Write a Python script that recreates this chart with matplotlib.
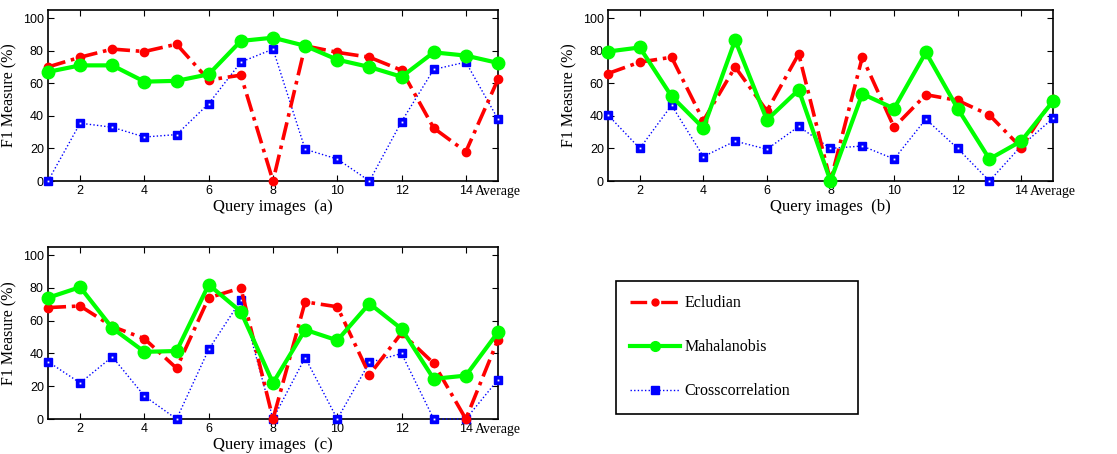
import numpy as np
import matplotlib.pyplot as plt
from matplotlib.lines import Line2D

# query images 1..14 plus the average at position 15
queries = np.arange(1, 16)

# panel (a)
eucl_a = [70, 76, 81, 79.5, 84, 62, 65, 0, 83, 79, 76, 68, 32.5, 18, 62.5]
maha_a = [67, 71, 71, 61, 61.5, 65.5, 86, 88, 83, 74.5, 70, 64, 79, 77, 72.5]
cross_a = [0, 35.5, 33, 27, 28.5, 47.5, 73, 81, 19.5, 13.5, 0, 36.5, 68.5, 73, 38]

# panel (b)
eucl_b = [66, 73, 76, 37, 70, 43, 78, 0, 76, 33, 53, 49.5, 40.5, 20.5, 50.5]
maha_b = [79.5, 82, 52, 32.5, 86.5, 37.5, 56, 0, 53.5, 44.5, 79, 44.5, 13.5, 24.5, 49]
cross_b = [40.5, 20, 46.5, 15, 24.5, 19.5, 33.5, 20, 21.5, 13.5, 38, 20, 0, 21.5, 38.5]

# panel (c)
eucl_c = [68, 69, 56.5, 49, 31, 74, 80, 0, 71.5, 68.5, 27, 52.5, 34, 0, 48.5]
maha_c = [74, 80.5, 55.5, 41, 41.5, 82, 65.5, 22, 54.5, 48, 70.5, 55, 24.5, 26.5, 53]
cross_c = [35, 22, 38, 14, 0, 42.5, 72.5, 0, 37.5, 0, 34.5, 40, 0, 0, 24]

labels = ["Ecludian", "Mahalanobis", "Crosscorrelation"]
panel_tags = ["(a)", "(b)", "(c)"]

W, H = 1117, 454
fig = plt.figure(figsize=(W / 100, H / 100), dpi=100)

serif = "Liberation Serif"
sans = "Liberation Sans"

RED_LS = (0, (5, 1.6, 1, 1.6))
BLUE_LS = (0, (1, 1.6))


def px_axes(x0, x1, y0, y1):
    return fig.add_axes([x0 / W, 1 - y1 / H, (x1 - x0) / W, (y1 - y0) / H])


def draw_panel(ax, eucl, maha, cross, tag):
    ax.plot(queries, cross, color="blue", lw=1.0, ls=BLUE_LS, marker="s",
            ms=6, mfc="blue", mec="blue", zorder=3, clip_on=False)
    ax.plot(queries, cross, ls="none", marker="s", ms=1.3, mew=0,
            mfc="white", zorder=3.1, clip_on=False)
    ax.plot(queries, eucl, color="red", lw=2.6, ls=RED_LS, marker="o",
            ms=6, mfc="red", mec="red", zorder=4, clip_on=False)
    ax.plot(queries, maha, color="#00ff00", lw=3, ls="-", marker="o",
            ms=9, mfc="#00ff00", mec="#00ff00", zorder=5, clip_on=False)

    ax.set_xlim(1, 15)
    ax.set_ylim(0, 105)
    ax.set_xticks(range(2, 15, 2))
    ax.set_yticks(range(0, 101, 20))
    ax.tick_params(direction="in", top=True, right=True, length=4,
                   labelsize=9, pad=3)
    for t in ax.get_xticklabels() + ax.get_yticklabels():
        t.set_fontfamily(sans)
    ax.text(15, -2.5, "Average", ha="center", va="top", fontsize=10,
            fontfamily=serif, transform=ax.transData)
    ax.set_ylabel("F1 Measure (%)", fontsize=11.5, fontfamily=serif, labelpad=4)
    ax.set_xlabel("Query images  " + tag, fontsize=12, fontfamily=serif,
                  labelpad=1)
    for sp in ax.spines.values():
        sp.set_linewidth(1.2)


ax_a = px_axes(48, 498, 10, 181)
ax_b = px_axes(608, 1053, 10, 181)
ax_c = px_axes(48, 498, 247, 419)

draw_panel(ax_a, eucl_a, maha_a, cross_a, panel_tags[0])
draw_panel(ax_b, eucl_b, maha_b, cross_b, panel_tags[1])
draw_panel(ax_c, eucl_c, maha_c, cross_c, panel_tags[2])

handles = [
    Line2D([], [], color="red", lw=2.4, ls=RED_LS, marker="o", ms=5),
    Line2D([], [], color="#00ff00", lw=3, ls="-", marker="o", ms=7),
    Line2D([], [], color="blue", lw=1.0, ls=BLUE_LS, marker="s", ms=6),
]
leg = fig.legend(handles, labels, loc="upper left",
                 bbox_to_anchor=(616 / W, 1 - 413 / H, 242 / W, 132 / H),
                 mode="expand", borderaxespad=0, fancybox=False,
                 edgecolor="black", framealpha=1, handlelength=3.1,
                 handletextpad=0.3, labelspacing=1.75, borderpad=0.9,
                 prop={"family": serif, "size": 11.5})
leg.get_frame().set_linewidth(1.2)

fig.savefig("out.png", dpi=100)
